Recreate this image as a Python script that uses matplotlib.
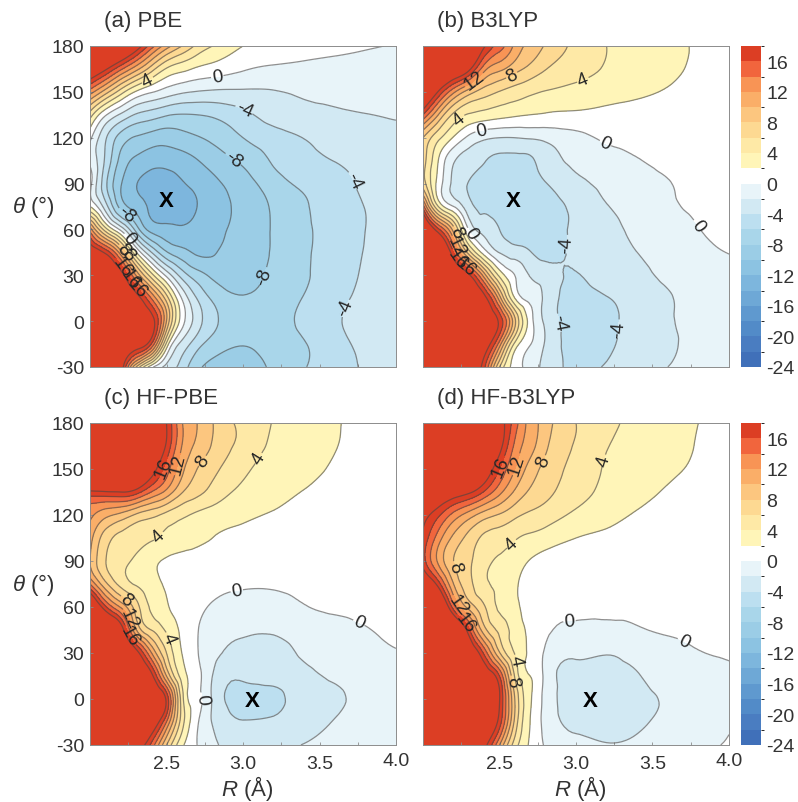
import numpy as np
import matplotlib
matplotlib.use("Agg")
import matplotlib.pyplot as plt
import matplotlib.tri as tri
from matplotlib.colors import ListedColormap, BoundaryNorm
from matplotlib.cm import ScalarMappable

plt.rcParams['font.family'] = ['Liberation Sans', 'DejaVu Sans']
plt.rcParams['mathtext.fontset'] = 'custom'
plt.rcParams['mathtext.it'] = 'Liberation Sans:italic'
plt.rcParams['mathtext.rm'] = 'Liberation Sans'
plt.rcParams['contour.negative_linestyle'] = 'solid'

# Energy grids, rows go from theta = 180 down to -30
r_values = [2.0, 2.1, 2.2, 2.3, 2.4, 2.5, 2.6, 2.7, 2.8, 3.0, 3.2, 3.4, 3.6, 3.8, 4.0]
theta_values = [180, 165, 150, 135, 120, 105, 90, 75, 60, 45, 30, 15, 0, -15, -30]

e_pbe = [
    [30, 28, 25, 20, 15, 11, 8, 5.5, 4, 2, 1.5, 1.1, 0.7, 0.3, -0.2],
    [22, 18.5, 14.5, 10.8, 7, 3.8, 2.6, 1.7, 1.2, 0.2, -0.35, -0.6, -0.8, -1.0, -1.2],
    [13, 9, 5, 1.8, 0.2, -0.9, -1.7, -2.1, -2.3, -2.3, -2.1, -1.8, -1.6, -1.4, -1.3],
    [5, 0.3, -2.3, -4.2, -5, -5.8, -6.1, -6, -5.7, -4.5, -3.2, -2.6, -2.3, -2.05, -1.85],
    [0.5, -3.7, -6.8, -8.2, -8.85, -9.15, -8.7, -8.15, -7.6, -6.0, -4.8, -3.95, -3.2, -2.7, -2.4],
    [-0.5, -4.3, -8.6, -10.4, -11.2, -11.3, -10.9, -10.1, -9.2, -7.6, -5.75, -4.6, -3.95, -3.2, -2.7],
    [0.7, -5.4, -9.8, -11.9, -12.9, -13, -12.2, -11.4, -10.5, -8.9, -6.9, -5.6, -4.8, -3.6, -2.9],
    [2, -3, -8.7, -10.8, -12.5, -13.3, -13, -12, -10.9, -9.5, -7.7, -6.2, -5, -3.95, -2.9],
    [13, 5, -0.5, -6.7, -10.7, -11.4, -11.7, -11.3, -10.6, -9.35, -7.8, -6.3, -5.2, -4, -3],
    [21, 17.5, 11, 2.3, -3.9, -7.8, -9.3, -10.3, -10.2, -9, -7.8, -6.3, -5.1, -3.9, -3.1],
    [28, 24, 19.5, 12, 5, -0.5, -4.8, -7.1, -8.4, -8.9, -7.5, -6.2, -5.1, -3.7, -3],
    [28, 26, 23, 19.5, 14, 7, -0.1, -4.1, -6.3, -7.8, -7.2, -5.9, -4.7, -3.4, -2.9],
    [28, 27, 25, 22, 19.3, 10, 1.0, -3, -5.4, -7.1, -6.8, -5.6, -4.3, -3.2, -2.9],
    [26, 25, 23, 20, 16, 3.5, -2.6, -5.2, -6.8, -7.9, -7.1, -6.1, -4.7, -3.5, -2.9],
    [24, 22, 20, 8, 0.7, -2.6, -4.8, -7.5, -8.6, -8.9, -7.6, -6.1, -5, -3.7, -3],
]
e_b3lyp = [
    [30, 28, 25, 22, 18.3, 15, 11.5, 9.4, 7.8, 5.5, 4, 3.2, 2.5, 1.8, 1.2],
    [27, 25, 22, 18.7, 12.8, 10.5, 8.8, 7.4, 6.1, 4.8, 3.8, 3.1, 2.5, 1.6, 1.1],
    [23, 17.8, 12.5, 9, 7, 5.9, 5.1, 4.4, 3.9, 3.4, 2.9, 2.4, 1.8, 1.2, 1.0],
    [16, 10, 5.6, 3.8, 3.2, 2.7, 2.3, 2, 1.8, 1.6, 1.4, 1.2, 1.0, 0.8, 0.7],
    [8, 4.5, 1.8, -0.5, -1.6, -2, -2, -1.8, -1.5, -0.6, 0.3, 0.5, 0.5, 0.5, 0.5],
    [7, 2, -1.8, -3, -3.9, -4.4, -4.5, -4.3, -3.1, -1.6, -0.8, -0.1, 0.4, 0.5, 0.5],
    [7, 1.2, -2.5, -4.1, -4.7, -5.2, -5.4, -4.9, -4.1, -2.5, -1.5, -0.8, -0.1, 0.5, 0.5],
    [15, 4, 0, -3.3, -4.5, -5.1, -5.4, -5.4, -5, -3.5, -2.1, -1.1, -0.3, 0.3, 0.5],
    [24, 16.5, 9, -0.2, -2.7, -4, -4.8, -5.2, -5, -3.6, -2.7, -1.5, -0.9, -0.05, 0.4],
    [28, 24, 16, 7, 1, -2.1, -3.1, -3.9, -4.6, -3.6, -2.8, -2, -1.3, -0.5, 0.05],
    [30, 27, 23, 18.5, 11, 3.5, 0, -2.1, -3, -4.1, -3.1, -2.5, -1.6, -1, -0.5],
    [30, 28, 26, 23, 19, 11, 2, -0.6, -2.5, -4.6, -4.1, -3.1, -2.2, -1.1, -0.7],
    [30, 29, 27, 24, 21, 17.5, 8.5, 1, -2.4, -4.9, -4.6, -3.1, -2.2, -1.3, -0.8],
    [30, 29, 27, 24, 20, 13, 3.5, 0.1, -2.2, -4.6, -4.4, -3, -2.3, -1.3, -0.9],
    [30, 28, 26, 22, 16.5, 6, 1.2, -1, -2.6, -4.4, -3.8, -2.7, -2, -1.2, -0.8],
]
e_hf_pbe = [
    [30, 29, 28, 26, 23, 18, 12.2, 10, 8.1, 5.5, 3.9, 3.1, 2.2, 1.4, 0.9],
    [30, 29, 27, 25, 22, 17.6, 12, 9.6, 7.8, 5.4, 3.6, 2.9, 2.1, 1.3, 0.9],
    [28, 27, 25, 23, 19.5, 15, 10.6, 8, 6.6, 4.4, 3.3, 2.7, 1.7, 1.2, 0.9],
    [17.5, 17.8, 18, 17, 14, 11.4, 8.2, 6.6, 5.3, 3.6, 2.8, 1.9, 1.3, 1.0, 0.8],
    [12.5, 10.6, 9.4, 7.7, 6.6, 5.4, 4.4, 3.6, 3.1, 2.4, 1.8, 1.3, 1.0, 0.8, 0.7],
    [10.8, 7, 5.4, 4.7, 4.2, 3.6, 3, 2.5, 2, 1.4, 1, 0.8, 0.7, 0.6, 0.6],
    [10, 6.1, 4.6, 3.6, 2.6, 1.7, 1.3, 1, 0.8, 0.6, 0.5, 0.5, 0.5, 0.5, 0.5],
    [14, 8.6, 5.4, 3.8, 2.8, 1.7, 1.2, 0.9, 0.6, 0.2, 0.2, 0.4, 0.5, 0.6, 0.6],
    [24, 16.5, 11.8, 7, 3.7, 2.2, 1.4, 0.7, -0.3, -0.9, -0.8, -0.1, 0.3, 0.5, 0.6],
    [28, 25, 20, 10.3, 6, 3.7, 1.6, 0.1, -0.9, -1.8, -1.8, -1.1, -0.6, -0.1, 0.3],
    [30, 28, 25, 19.5, 12.2, 6, 2, 0.1, -1.3, -2.5, -2.6, -1.7, -1, -0.5, -0.1],
    [30, 29, 27, 24, 19, 10, 3.2, 0.5, -2, -3.7, -3.4, -2.6, -1.7, -1.1, -0.6],
    [30, 29, 28, 26, 23, 17.5, 5, 0.6, -2.2, -4.6, -4.4, -3.1, -2.3, -1.4, -0.9],
    [30, 29, 28, 26, 21, 14, 5, 0.3, -2.1, -3.9, -3.7, -3, -1.9, -1.4, -1],
    [28, 27, 25, 21, 15.5, 8, 2.5, 0, -1.5, -3, -2.7, -1.9, -1.5, -1.2, -1],
]
e_hf_b3lyp = [
    [30, 30, 29, 27, 24, 19.5, 15, 11.2, 9, 6, 4.5, 3.5, 2.7, 2, 1.3],
    [30, 29, 28, 26, 23, 19, 13.6, 10.8, 8.4, 5.8, 4.1, 3.4, 2.7, 1.9, 1.3],
    [28, 27, 26, 24, 20.5, 16, 12, 9.2, 7.4, 5.3, 3.8, 3.1, 2.4, 1.7, 1.2],
    [24, 22, 20, 18.5, 15.8, 12.6, 9.7, 7.7, 6.6, 4.8, 3.5, 2.6, 1.8, 1.3, 1],
    [19, 16.4, 13.3, 11, 9, 7.8, 6.5, 5.6, 5, 3.6, 2.7, 1.8, 1.3, 1, 0.8],
    [17.5, 13, 9.5, 7.3, 5.6, 5, 4.2, 3.6, 3.1, 2, 1.5, 1, 0.8, 0.7, 0.7],
    [17, 11.6, 8, 6.3, 4.6, 3.8, 2.9, 1.9, 1.2, 0.8, 0.7, 0.6, 0.6, 0.6, 0.6],
    [22, 17, 10, 6.6, 4.4, 3.6, 2.3, 1.3, 0.9, 0.5, 0.3, 0.5, 0.6, 0.6, 0.6],
    [28, 24, 15, 9.3, 6.2, 3.6, 2.4, 1.2, 0.7, 0.2, 0.1, 0.3, 0.5, 0.6, 0.6],
    [30, 28, 24, 16.5, 8.8, 5.5, 3.1, 1.6, 0.4, -0.3, -0.4, -0.15, 0.2, 0.4, 0.5],
    [30, 29, 27, 22, 15.5, 8.2, 3.9, 1.6, -0.3, -1.7, -1.9, -1.3, -0.7, -0.1, 0.2],
    [30, 29, 28, 25, 21, 16, 5.8, 2, -0.5, -2.4, -2.5, -2.1, -1.4, -0.8, -0.2],
    [30, 29, 28, 26, 23, 18.1, 8, 2.3, -0.6, -2.7, -2.9, -2.4, -1.8, -0.8, -0.2],
    [30, 29, 28, 26, 22, 17, 7.5, 2, -0.6, -2.4, -2.7, -2.3, -1.6, -0.9, -0.1],
    [30, 29, 27, 24, 19, 12, 5, 1.7, -0.2, -1.6, -1.9, -1.6, -1, -0.4, 0.1],
]

panel_titles = ["(a) PBE", "(b) B3LYP", "(c) HF-PBE", "(d) HF-B3LYP"]
panel_data = [e_pbe, e_b3lyp, e_hf_pbe, e_hf_b3lyp]
minimum_r = [2.5, 2.59, 3.06, 3.09]
minimum_theta = [79, 79, -1, -1]

# Where the contour labels sit
labels_a = [(2.37, 159), (2.83, 161), (3.01, 139), (2.95, 108), (3.72, 92), (3.12, 30), (3.68, 8),
            (2.23, 69), (2.25, 54), (2.23, 48), (2.24, 43), (2.22, 36), (2.25, 27), (2.26, 23)]
labels_b = [(2.34, 157), (2.59, 159), (3.04, 159), (2.24, 132), (2.38, 126), (3.2, 118), (2.92, 50.5),
            (3.79, 62.5), (2.32, 58), (2.21, 58), (2.22, 49), (2.23, 41), (2.25, 34), (2.93, 0), (3.28, -5)]
labels_c = [(2.40, 154), (2.54, 154), (2.74, 155), (3.11, 156.5), (2.46, 105), (2.23, 64), (2.25, 52),
            (2.25, 41), (2.52, 40), (2.96, 70), (3.75, 48), (2.71, 0)]
labels_d = [(2.45, 154), (2.58, 154), (2.79, 155), (3.2, 155), (2.58, 101), (2.21, 86), (2.23, 61),
            (2.25, 48), (2.61, 25), (2.57, 11), (2.96, 67), (3.76, 51)]
panel_labels = [labels_a, labels_b, labels_c, labels_d]

levels = np.arange(-24, 20, 2)
label_levels = np.arange(-24, 20, 4)
other_levels = np.arange(-22, 20, 4)
# one colour per 2-unit band, -24 at the start and 18 at the end
band_colors = ["#4070b9", "#4a7dc1", "#528bc8", "#5f99cf", "#6ea8d6", "#7db6dd",
               "#8cc3e2", "#9bcde6", "#a9d6ea", "#bcdff0", "#d2e9f3", "#e8f4f9",
               "#ffffff", "#fff5b8", "#fee9a6", "#fdd992", "#fcc67f", "#faae68", "#f89455",
               "#f1653d", "#dc3e24"]
cmap = ListedColormap(band_colors)
cmap.set_over("#dc3e24")
norm = BoundaryNorm(levels, cmap.N)
line_color = [(0.27, 0.27, 0.27, 0.6)]

W, H = 798, 803
fig = plt.figure(figsize=(W / 100, H / 100), dpi=100)


def px_axes(x0, y0, x1, y1):
    return fig.add_axes([x0 / W, 1 - y1 / H, (x1 - x0) / W, (y1 - y0) / H])


# Triangles for the grid, so the refiner can smooth the contours
nr, nt = len(r_values), len(theta_values)
R, T = np.meshgrid(r_values, theta_values)
triangles = []
for j in range(nt - 1):
    for i in range(nr - 1):
        a = j * nr + i
        triangles.append([a, a + 1, a + nr])
        triangles.append([a + 1, a + nr + 1, a + nr])
grid = tri.Triangulation(R.ravel(), T.ravel(), triangles)
refiner = tri.UniformTriRefiner(grid)

boxes = [(90, 47, 396, 368), (423, 47, 729, 368), (90, 424, 396, 746), (423, 424, 729, 746)]
grey = "#8c8c8c"
text_color = "#333333"

for k in range(4):
    ax = px_axes(*boxes[k])
    z = np.array(panel_data[k], dtype=float).ravel()
    fine, z_fine = refiner.refine_field(z, subdiv=3)
    ax.tricontourf(fine, z_fine, levels=levels, cmap=cmap, norm=norm, extend='max')
    ax.tricontour(fine, z_fine, levels=other_levels, colors=line_color, linewidths=0.9)
    lines = ax.tricontour(fine, z_fine, levels=label_levels, colors=line_color, linewidths=0.9)
    ax.clabel(lines, manual=panel_labels[k], fmt='%d', fontsize=13.5,
              colors="#262626", inline=True, inline_spacing=1)
    ax.text(minimum_r[k], minimum_theta[k], "X", fontsize=16, fontweight='bold', color='black',
            ha='center', va='center')
    ax.set_xlim(2.0, 4.0)
    ax.set_ylim(-30, 180)
    ax.set_xticks([2.25, 2.5, 2.75, 3.0, 3.25, 3.5, 3.75])
    ax.set_yticks([-30, 0, 30, 60, 90, 120, 150, 180])
    ax.tick_params(direction='in', length=2.5, width=0.6, color=grey, labelcolor=text_color,
                   labelsize=14, pad=4)
    ax.tick_params(axis='x', pad=7)
    if k >= 2:
        ax.set_xticklabels(["", "2.5", "", "3.0", "", "3.5", ""])
        ax.set_xlabel(r"$\mathit{R}$ (Å)", fontsize=16, color=text_color, labelpad=1, x=0.513)
        ax.text(4.0, -30 - 210 * 16 / 322, "4.0", fontsize=14, color=text_color, ha='center', va='center')
    else:
        ax.set_xticklabels([])
    if k % 2 == 0:
        ax.set_yticklabels(["-30", "0", "30", "60", "90", "120", "150", "180"])
        ax.set_ylabel(r"$\mathit{\theta}$ (°)", fontsize=16, color=text_color, rotation=0, labelpad=13,
                      va='center')
    else:
        ax.set_yticklabels([])
    ax.set_title(panel_titles[k], loc='left', fontsize=16, color=text_color, x=0.045, pad=14.5)
    top = ax.secondary_xaxis('top')
    top.set_xticks(np.arange(2.2, 4.0, 0.2))
    top.set_xticklabels([])
    top.tick_params(direction='in', length=2.5, width=0.6, color=grey)
    top.spines['top'].set_visible(False)
    right = ax.secondary_yaxis('right')
    right.set_yticks(np.arange(-20, 180, 20))
    right.set_yticklabels([])
    right.tick_params(direction='in', length=2.5, width=0.6, color=grey)
    right.spines['right'].set_visible(False)
    for s in ax.spines.values():
        s.set_color(grey)
        s.set_linewidth(0.7)

# Two colour bars
for y0, y1 in [(47, 368), (424, 746)]:
    cax = px_axes(741, y0, 761, y1)
    sm = ScalarMappable(norm=norm, cmap=ListedColormap(band_colors))
    cb = fig.colorbar(sm, cax=cax, ticks=np.arange(-24, 20, 4))
    cb.outline.set_visible(False)
    cb.ax.set_yticklabels([str(v) for v in range(-24, 20, 4)])
    cb.ax.tick_params(length=0, labelsize=14, labelcolor=text_color, pad=4)

fig.savefig("out.png", dpi=100)
